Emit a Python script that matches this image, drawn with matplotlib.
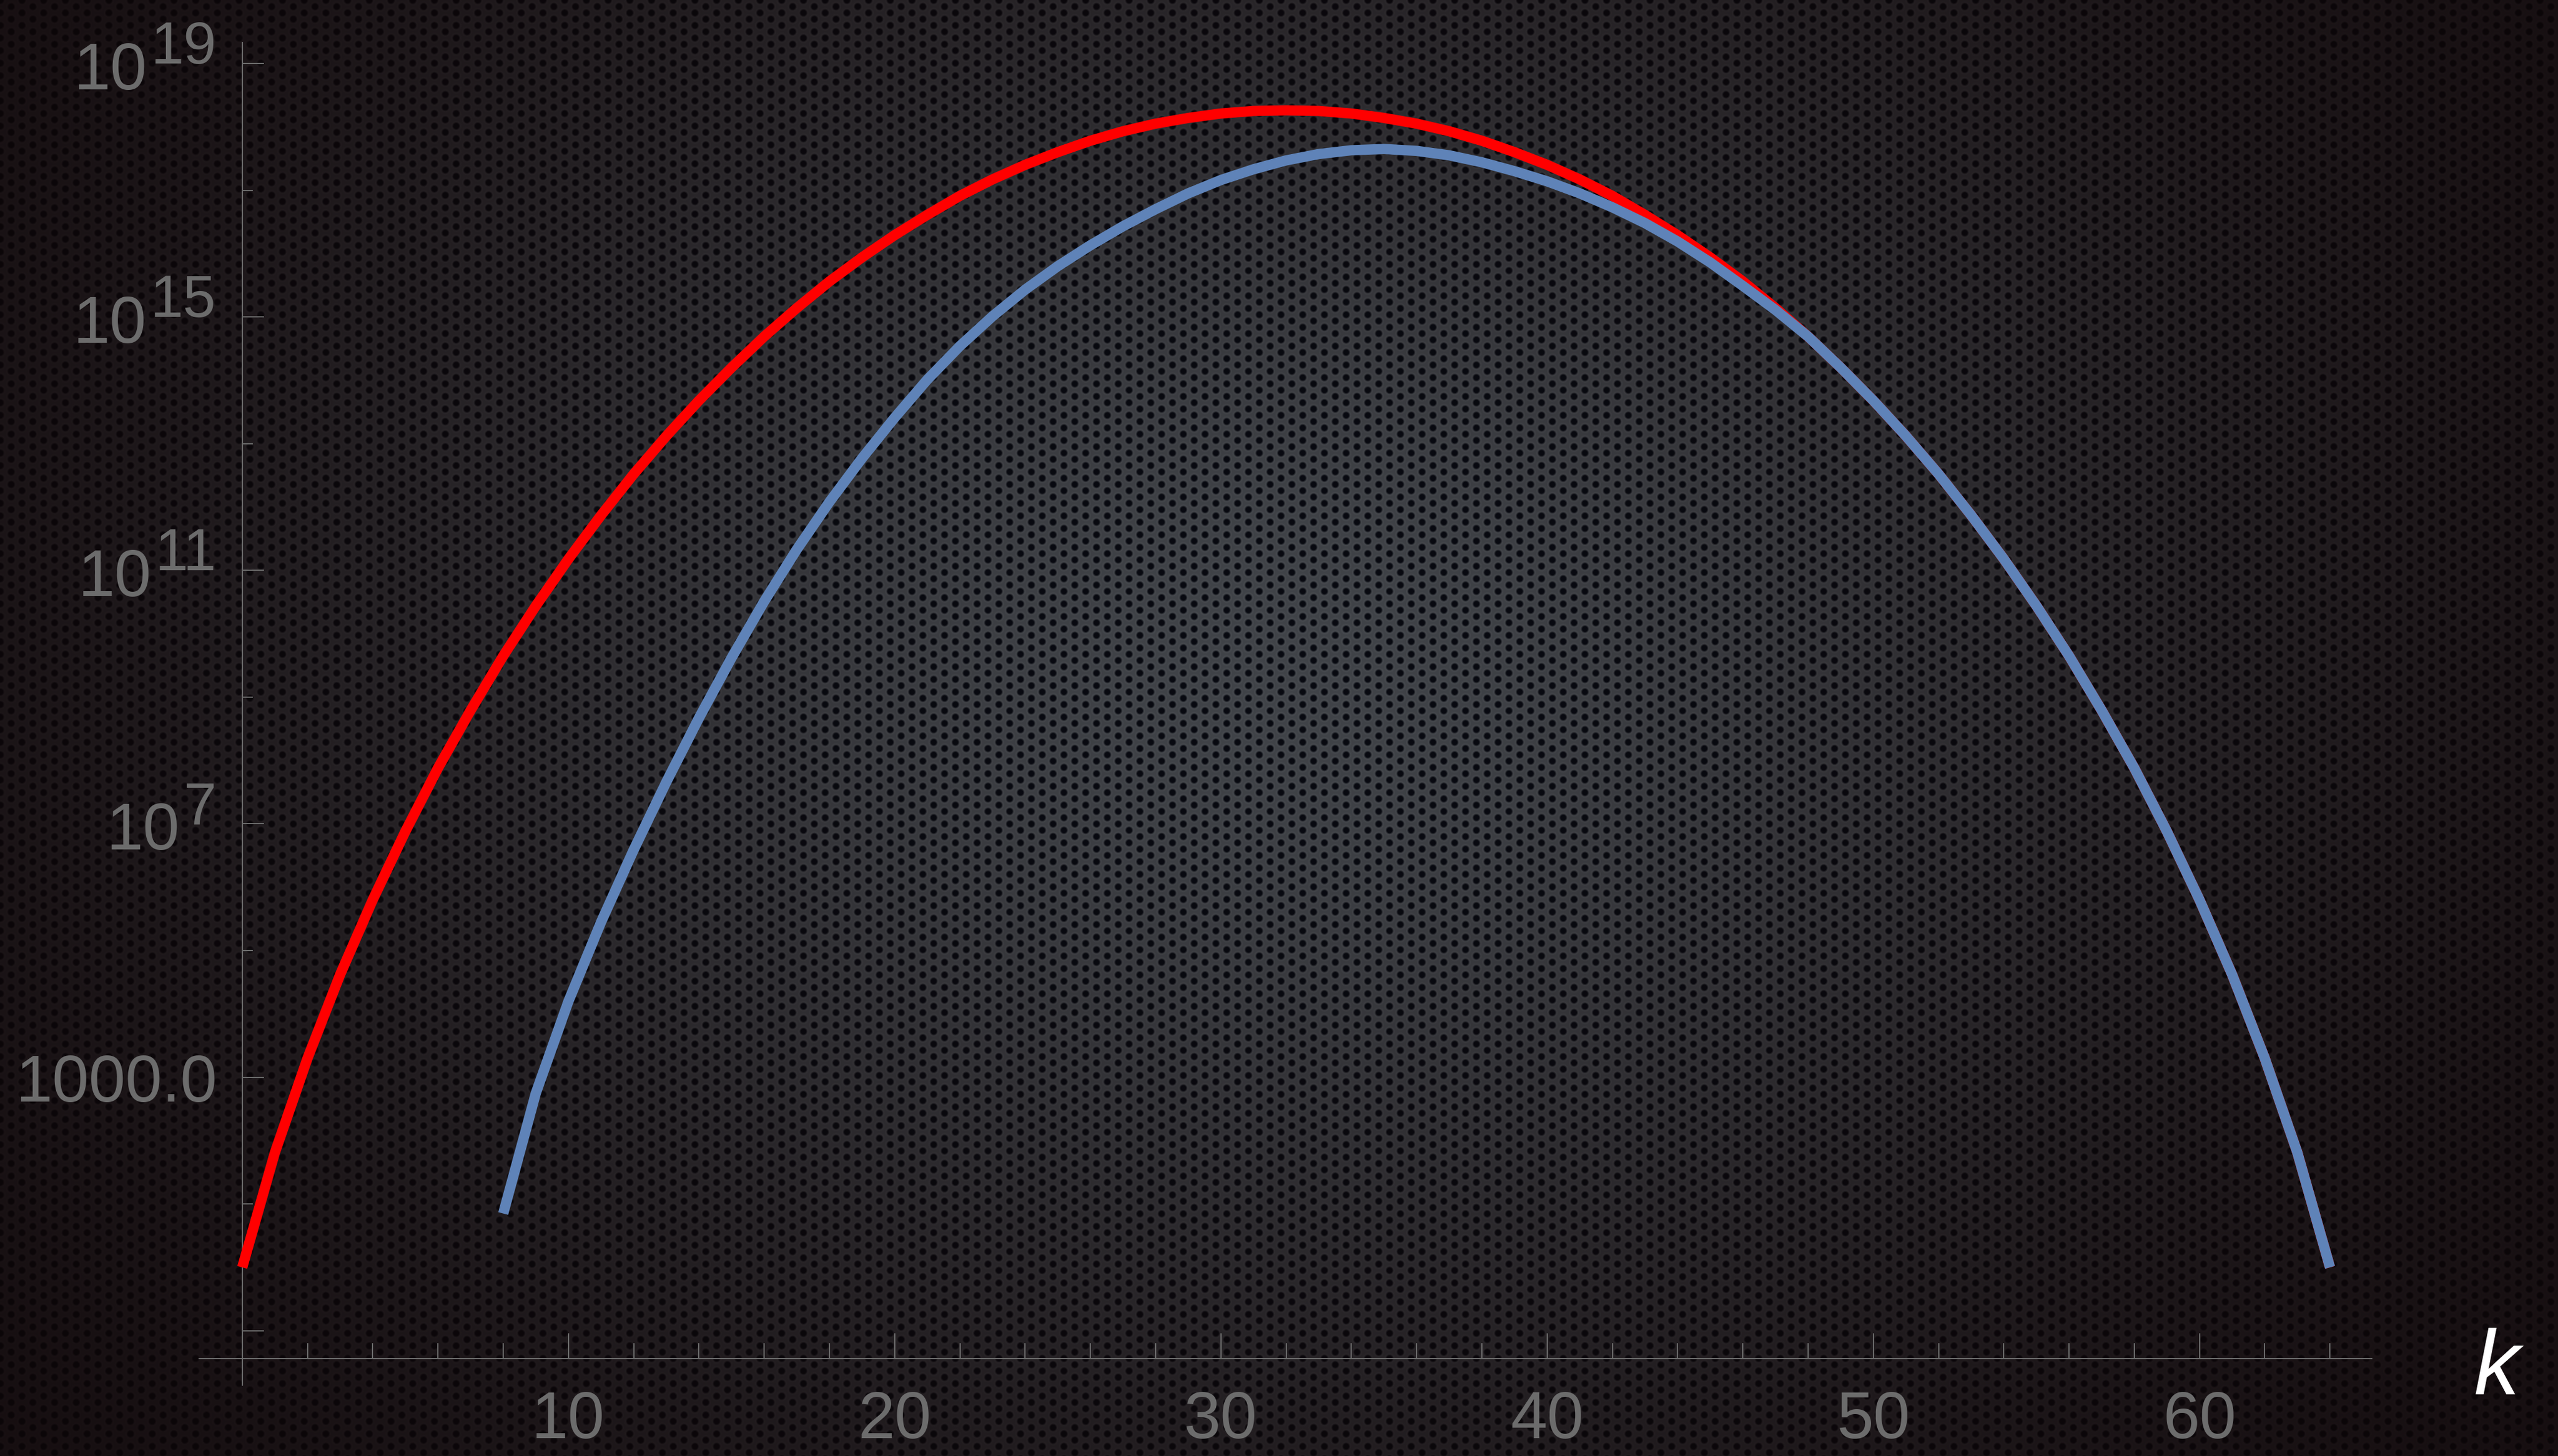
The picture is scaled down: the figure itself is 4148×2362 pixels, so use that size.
import numpy as np
import matplotlib
matplotlib.use('Agg')
import matplotlib.pyplot as plt
from matplotlib.ticker import FixedLocator, NullFormatter

# values (log10 of the plotted quantity)
k_red = list(range(0, 65))
logv_red = [0.00, 1.81, 3.30, 4.62, 5.80, 6.88, 7.88, 8.79, 9.65, 10.44,
            11.18, 11.87, 12.52, 13.12, 13.68, 14.20, 14.69, 15.14, 15.56, 15.94,
            16.29, 16.61, 16.91, 17.17, 17.40, 17.60, 17.78, 17.93, 18.05, 18.14,
            18.21, 18.25, 18.26, 18.25, 18.21, 18.14, 18.05, 17.93, 17.78, 17.60,
            17.40, 17.17, 16.91, 16.61, 16.29, 15.94, 15.56, 15.14, 14.69, 14.20,
            13.68, 13.12, 12.52, 11.87, 11.18, 10.44, 9.65, 8.79, 7.88, 6.88,
            5.80, 4.62, 3.30, 1.81, 0.00]

k_blue = list(range(8, 65))
logv_blue = [0.85, 2.75, 4.20, 5.45, 6.59, 7.66, 8.67, 9.62, 10.51, 11.33,
             12.08, 12.77, 13.41, 14.01, 14.54, 15.01, 15.43, 15.80, 16.13, 16.43,
             16.70, 16.95, 17.16, 17.33, 17.47, 17.57, 17.63, 17.65, 17.62, 17.55,
             17.44, 17.30, 17.14, 16.95, 16.73, 16.48, 16.19, 15.86, 15.49, 15.11,
             14.69, 14.20, 13.68, 13.12, 12.52, 11.87, 11.18, 10.44, 9.65, 8.79,
             7.88, 6.88, 5.80, 4.62, 3.30, 1.81, 0.00]

x_major = [10, 20, 30, 40, 50, 60]
x_minor = [2, 4, 6, 8, 12, 14, 16, 18, 22, 24, 26, 28, 32, 34, 36, 38,
           42, 44, 46, 48, 52, 54, 56, 58, 62, 64]
y_major_exp = [-1, 3, 7, 11, 15, 19]
y_minor_exp = [1, 5, 9, 13, 17]
y_labels = {19: ('10', '19'), 15: ('10', '15'), 11: ('10', '11'),
            7: ('10', '7'), 3: ('1000.0', None)}

W, H = 4148, 2362
grey = '#6c6c6c'
font = 'Liberation Sans'

# background: dark perforated metal with a soft glow
yy, xx = np.mgrid[0:H, 0:W].astype(np.float32)
cw, rh = 17.6, 20.4
col = np.round(xx / cw)
ysh = (col % 2) * rh / 2
row = np.round((yy - ysh) / rh)
d = np.hypot(xx - col * cw, yy - row * rh - ysh)
mesh = np.clip((d - 4.0) / 3.0, 0, 1)
ring = np.exp(-((d - 7.0) / 1.6) ** 2)
g = np.exp(-(((xx - 0.50 * W) / (0.36 * W)) ** 2 + ((yy - 0.45 * H) / (0.50 * H)) ** 2))
del yy, xx, col, ysh, row, d
edge_mesh = np.array([20, 12, 14], dtype=np.float32)
cen_mesh = np.array([64, 67, 72], dtype=np.float32)
edge_hole = np.array([12, 6, 8], dtype=np.float32)
cen_hole = np.array([8, 10, 17], dtype=np.float32)
bg = np.empty((H, W, 3), dtype=np.uint8)
for c in range(3):
    mc = edge_mesh[c] + (cen_mesh[c] - edge_mesh[c]) * g
    hc = edge_hole[c] + (cen_hole[c] - edge_hole[c]) * g
    v = hc + (mc - hc) * np.clip(mesh + 0.15 * ring, 0, 1.1)
    bg[:, :, c] = np.clip(v, 0, 255).astype(np.uint8)

fig = plt.figure(figsize=(W / 100, H / 100), dpi=100, facecolor='black')
fig.figimage(bg, xo=0, yo=0, origin='upper', zorder=0)

ax = fig.add_axes([323 / W, (H - 2247) / H, (3846 - 323) / W, (2247 - 69) / H])
ax.set_zorder(2)
ax.set_facecolor('none')
ax.set_yscale('log')
ax.set_xlim(-1.32, 65.28)
ax.set_ylim(10 ** -1.858, 10 ** 19.33)

ax.plot(k_red, 10 ** np.array(logv_red), color='#ff0000', lw=12,
        solid_capstyle='butt', solid_joinstyle='round', zorder=3)
ax.plot(k_blue, 10 ** np.array(logv_blue), color='#5f83b8', lw=12,
        solid_capstyle='butt', solid_joinstyle='round', zorder=4)

for s in ['top', 'right']:
    ax.spines[s].set_visible(False)
ax.spines['left'].set_position(('data', 0))
ax.spines['bottom'].set_position(('data', 10 ** -1.44))
for s in ['left', 'bottom']:
    ax.spines[s].set_color(grey)
    ax.spines[s].set_linewidth(1.5)

ax.xaxis.set_major_locator(FixedLocator(x_major))
ax.xaxis.set_minor_locator(FixedLocator(x_minor))
ax.yaxis.set_major_locator(FixedLocator([10.0 ** e for e in y_major_exp]))
ax.yaxis.set_minor_locator(FixedLocator([10.0 ** e for e in y_minor_exp]))
for a in [ax.xaxis, ax.yaxis]:
    a.set_major_formatter(NullFormatter())
    a.set_minor_formatter(NullFormatter())
ax.tick_params(axis='x', which='major', direction='in', length=29.5, width=1.4, color=grey)
ax.tick_params(axis='x', which='minor', direction='in', length=18, width=1.4, color=grey)
ax.tick_params(axis='y', which='major', direction='in', length=25, width=1.4, color=grey)
ax.tick_params(axis='y', which='minor', direction='in', length=12.5, width=1.4, color=grey)

# x tick labels
for v in x_major:
    ax.annotate(str(v), xy=(v, 10 ** -1.44), xytext=(0, -129), textcoords='offset pixels',
                ha='center', va='baseline', fontsize=77, color=grey, family=font,
                annotation_clip=False)

# y tick labels (base + superscript)
fig.canvas.draw()
renderer = fig.canvas.get_renderer()
for e, (base, sup) in y_labels.items():
    if sup is None:
        ax.annotate(base, xy=(0, 10.0 ** e), xytext=(-40, -39), textcoords='offset pixels',
                    ha='right', va='baseline', fontsize=77, color=grey, family=font,
                    annotation_clip=False)
        continue
    ts = ax.annotate(sup, xy=(0, 10.0 ** e), xytext=(-42, 0), textcoords='offset pixels',
                     ha='right', va='baseline', fontsize=69, color=grey, family=font,
                     annotation_clip=False)
    bb = ts.get_window_extent(renderer)
    x0 = ax.transData.transform((0, 10.0 ** e))[0]
    ax.annotate(base, xy=(0, 10.0 ** e), xytext=(bb.x0 - x0 - 6, -42), textcoords='offset pixels',
                ha='right', va='baseline', fontsize=77, color=grey, family=font,
                annotation_clip=False)

fig.text(4012 / W, 1 - 2262 / H, 'k', ha='left', va='baseline', fontsize=107,
         style='italic', color='white', family=font)

fig.savefig('out.png', dpi=100, facecolor='black')
